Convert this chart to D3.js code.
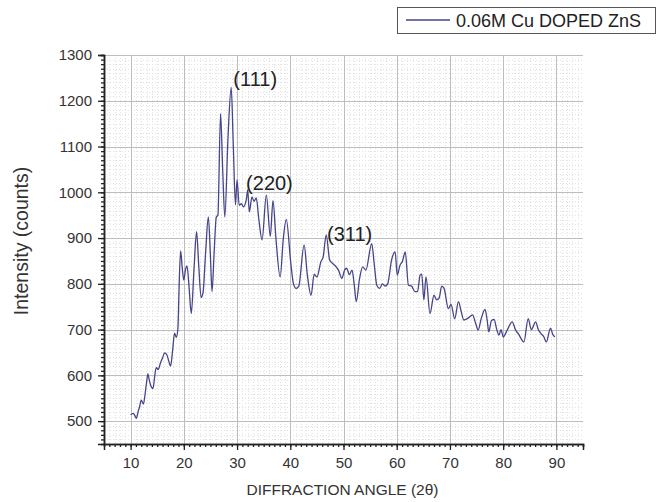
<!DOCTYPE html>
<html>
<head>
<meta charset="utf-8">
<script src="https://cdn.jsdelivr.net/npm/d3@7"></script>
<style>
  body { margin: 0; background: #fff; }
  text { font-family: "Liberation Sans", Arial, sans-serif; }
</style>
</head>
<body>
<script>
// 2-theta angles and counts
var angle = [10.0,10.5,10.8,11.07,11.4,11.7,12.0,12.4,12.7,13.0,13.25,13.5,13.75,14.2,14.5,14.8,15.2,15.6,16.0,16.4,
  16.8,17.2,17.5,17.9,18.25,18.6,18.9,19.1,19.4,19.7,20.0,20.3,20.6,21.0,21.4,21.9,22.4,22.8,23.25,23.6,
  24.1,24.6,25.0,25.3,25.7,26.1,26.4,26.9,27.3,27.7,28.3,28.9,29.3,29.7,30.0,30.4,30.8,31.2,31.75,32.0,
  32.3,32.8,33.2,33.6,34.1,34.7,35.5,36.25,36.75,37.3,38.1,38.7,39.25,40.1,40.6,41.1,41.6,42.6,43.2,43.9,
  44.5,45.0,45.75,46.2,46.75,47.4,47.9,48.4,49.05,49.7,50.2,50.6,51.1,51.6,52.0,52.4,53.0,53.6,54.2,55.3,
  55.8,56.25,56.8,57.3,57.8,58.3,59.05,59.7,60.1,60.6,61.1,61.6,62.2,62.8,63.4,63.9,64.4,64.7,65.1,65.5,
  66.25,67.0,67.5,68.0,68.45,68.9,69.7,70.2,70.9,71.6,72.1,72.6,73.4,74.25,74.8,75.3,75.9,76.6,77.0,77.3,
  77.8,78.3,78.8,79.2,79.6,80.0,80.8,81.7,82.3,82.9,83.9,84.7,85.3,86.1,86.6,87.2,87.6,88.1,88.9,89.3,89.7];
var counts = [514,517,512,506,520,532,546,537,557,585,603,590,579,571,595,617,613,627,638,649,
  645,630,620,655,692,683,706,790,872,835,808,830,839,790,735,830,914,840,770,780,
  870,946,860,783,870,946,950,1172,1050,946,1120,1229,1100,972,1027,972,975,968,985,1005,
  957,990,980,988,940,896,994,904,982,900,815,900,941,845,800,790,795,885,820,775,
  821,815,848,860,907,852,845,840,830,812,830,834,820,830,800,761,810,837,830,888,
  840,797,790,800,795,800,853,870,819,840,850,870,797,795,783,783,819,821,765,815,
  735,775,765,770,795,790,746,755,724,761,740,721,725,732,715,699,725,744,720,695,
  720,722,700,688,700,684,700,717,700,690,673,724,700,717,700,690,685,673,703,690,684];

var xTicks = [10,20,30,40,50,60,70,80,90];
var yTicks = [500,600,700,800,900,1000,1100,1200,1300];
var peakLabels = ["(111)","(220)","(311)"];
var peakAngle = [29.3,31.7,46.9];
var peakCount = [1232,1005,893];
var seriesName = "0.06M Cu DOPED ZnS";

var w = 660, h = 502;
var padL = 104, padR = 583, padT = 55, padB = 444;

var svg = d3.select("body").append("svg")
    .attr("width", w)
    .attr("height", h);

var x = d3.scaleLinear().domain([5, 95]).range([padL, padR]);
var y = d3.scaleLinear().domain([450, 1300]).range([padB, padT]);

// minor grid (dotted)
var g = svg.append("g");
g.selectAll("line.mx")
    .data(d3.range(6, 95, 1))
    .enter().append("line")
    .attr("x1", function(d) { return Math.round(x(d)) + 0.5; })
    .attr("x2", function(d) { return Math.round(x(d)) + 0.5; })
    .attr("y1", padT).attr("y2", padB)
    .attr("stroke", "#e2e2e2").attr("stroke-dasharray", "1,2");
g.selectAll("line.my")
    .data(d3.range(460, 1300, 10))
    .enter().append("line")
    .attr("y1", function(d) { return Math.round(y(d)) + 0.5; })
    .attr("y2", function(d) { return Math.round(y(d)) + 0.5; })
    .attr("x1", padL).attr("x2", padR)
    .attr("stroke", "#e2e2e2").attr("stroke-dasharray", "1,2");

// major grid
g.selectAll("line.gx")
    .data(xTicks)
    .enter().append("line")
    .attr("x1", function(d) { return Math.round(x(d)) + 0.5; })
    .attr("x2", function(d) { return Math.round(x(d)) + 0.5; })
    .attr("y1", padT).attr("y2", padB)
    .attr("stroke", "#bdbdbd");
g.selectAll("line.gy")
    .data(yTicks)
    .enter().append("line")
    .attr("y1", function(d) { return Math.round(y(d)) + 0.5; })
    .attr("y2", function(d) { return Math.round(y(d)) + 0.5; })
    .attr("x1", padL).attr("x2", padR)
    .attr("stroke", "#bdbdbd");

// axes
svg.append("g")
    .attr("transform", "translate(0," + padB + ")")
    .call(d3.axisBottom(x).tickValues(d3.range(6, 96, 1)).tickSize(3).tickFormat(""));
svg.append("g")
    .attr("transform", "translate(0," + padB + ")")
    .call(d3.axisBottom(x).tickValues(xTicks).tickSize(6).tickPadding(7).tickFormat(d3.format("d")));
svg.append("g")
    .attr("transform", "translate(" + padL + ",0)")
    .call(d3.axisLeft(y).tickValues(d3.range(460, 1301, 10)).tickSize(3).tickFormat(""));
svg.append("g")
    .attr("transform", "translate(" + padL + ",0)")
    .call(d3.axisLeft(y).tickValues(yTicks).tickSize(6).tickPadding(6).tickFormat(d3.format("d")));

svg.selectAll(".domain").attr("stroke", "#222").attr("stroke-width", 1.5);
svg.selectAll(".tick line").attr("stroke", "#222").attr("stroke-width", 1.3);
svg.selectAll(".tick text")
    .attr("font-size", "15px")
    .attr("fill", "#333")
    .attr("font-family", "Liberation Sans, Arial, sans-serif");

// the scan
var line = d3.line()
    .x(function(d, i) { return x(angle[i]); })
    .y(function(d) { return y(d); })
    .curve(d3.curveMonotoneX);
svg.append("path")
    .datum(counts)
    .attr("d", line)
    .attr("fill", "none")
    .attr("stroke", "#45458a")
    .attr("stroke-width", 1.3);

// peak labels
svg.selectAll("text.peak")
    .data(peakLabels)
    .enter().append("text")
    .attr("class", "peak")
    .attr("x", function(d, i) { return x(peakAngle[i]); })
    .attr("y", function(d, i) { return y(peakCount[i]); })
    .attr("font-size", "20px")
    .attr("fill", "#222")
    .text(function(d) { return d; });

// axis titles
svg.append("text")
    .attr("x", (padL + padR) / 2 - 1)
    .attr("y", 495)
    .attr("text-anchor", "middle")
    .attr("font-size", "15.5px")
    .attr("fill", "#333")
    .text("DIFFRACTION ANGLE (2θ)");
svg.append("text")
    .attr("transform", "translate(28," + 241 + ") rotate(-90)")
    .attr("text-anchor", "middle")
    .attr("font-size", "19.5px")
    .attr("fill", "#333")
    .text("Intensity (counts)");

// legend
var lg = svg.append("g");
lg.append("rect")
    .attr("x", 397.5).attr("y", 7.5)
    .attr("width", 258).attr("height", 26)
    .attr("fill", "#fff").attr("stroke", "#555");
lg.append("line")
    .attr("x1", 406).attr("x2", 450)
    .attr("y1", 20).attr("y2", 20)
    .attr("stroke", "#45458a").attr("stroke-width", 1.3);
lg.append("text")
    .attr("x", 456).attr("y", 27)
    .attr("font-size", "18px")
    .attr("fill", "#222")
    .text(seriesName);
</script>
</body>
</html>
